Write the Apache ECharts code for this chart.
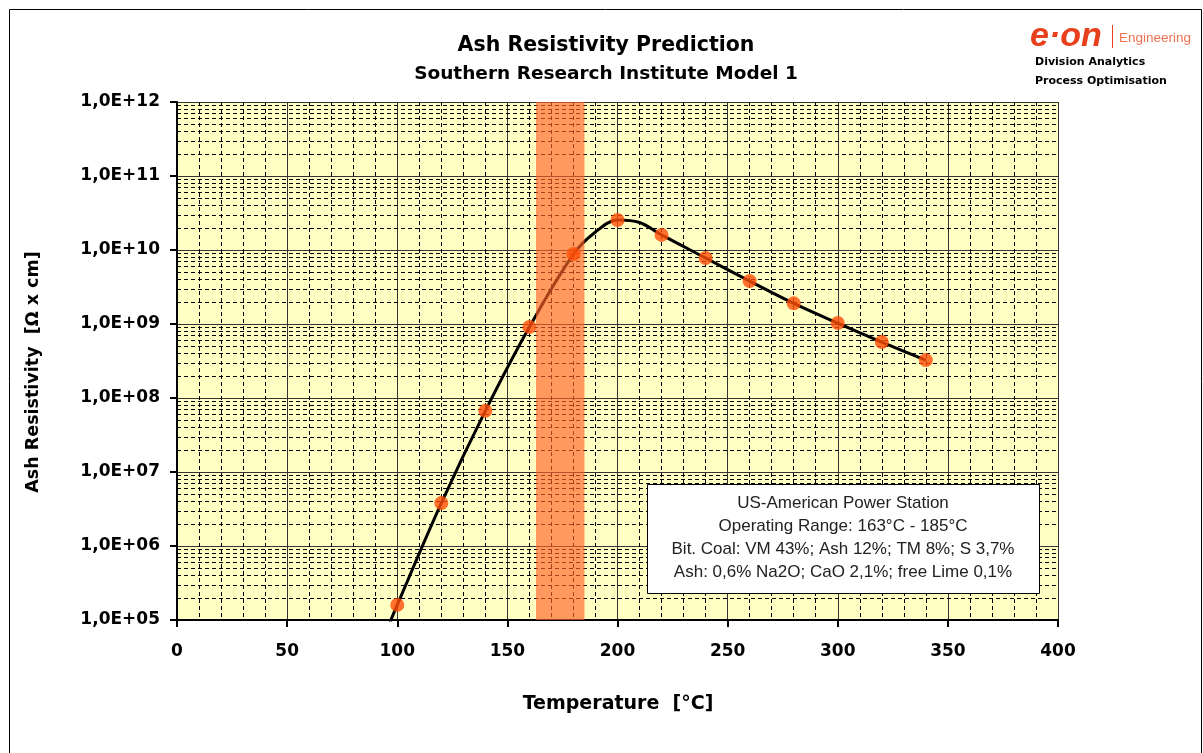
<!DOCTYPE html>
<html><head><meta charset="utf-8">
<script src="https://cdn.jsdelivr.net/npm/echarts@6/dist/echarts.min.js"></script>
<style>html,body{margin:0;padding:0;background:#fff;}#c{width:1203px;height:753px;}</style>
</head><body><div id="c"></div>
<script>
// Marker data (°C, Ω·cm)
const temps = [100, 120, 140, 160, 180, 200, 220, 240, 260, 280, 300, 320, 340];
const resistivity = [1.6e5, 3.8e6, 6.7e7, 9.1e8, 8.8e9, 2.54e10, 1.6e10, 7.8e9, 3.8e9, 1.9e9, 1.03e9, 5.7e8, 3.25e8];
// Model curve
const curveTemps = [95, 100, 120, 140, 160, 180, 190, 200, 210, 220, 240, 260, 280, 300, 320, 340];
const curveValues = [7e4, 1.6e5, 3.8e6, 6.7e7, 9.1e8, 8.8e9, 1.75e10, 2.54e10, 2.35e10, 1.6e10, 7.8e9, 3.8e9, 1.9e9, 1.03e9, 5.7e8, 3.25e8];
// Operating range
const operatingRange = [163, 185];
const xTicks = [0, 50, 100, 150, 200, 250, 300, 350, 400];
const yDecades = [5, 6, 7, 8, 9, 10, 11, 12];
const infoLines = [
  'US-American Power Station',
  'Operating Range: 163°C - 185°C',
  'Bit. Coal: VM 43%; Ash 12%; TM 8%; S 3,7%',
  'Ash: 0,6% Na2O; CaO 2,1%; free Lime 0,1%'
];

const FB = '"DejaVu Sans", Verdana, sans-serif';
const F = '"Liberation Sans", Arial, sans-serif';
const minorY = [];
for (let d = yDecades[0]; d < yDecades[yDecades.length - 1]; d++) {
  for (let m = 2; m <= 9; m++) minorY.push([0, m * Math.pow(10, d)]);
}

const chart = echarts.init(document.getElementById('c'));
chart.setOption({
  animation: false,
  grid: { left: 177, right: 145, top: 102, bottom: 133, show: true, backgroundColor: '#FFFFC4', borderWidth: 0 },
  xAxis: {
    type: 'value', min: xTicks[0], max: xTicks[xTicks.length - 1], interval: 50,
    axisLine: { show: true, onZero: false, lineStyle: { color: '#000', width: 2 } },
    axisTick: { show: true, length: 7, lineStyle: { color: '#000', width: 2 } },
    axisLabel: { margin: 23, fontFamily: FB, fontSize: 17, fontWeight: 'bold', color: '#000' },
    splitLine: { show: true, lineStyle: { color: '#333', width: 1 } },
    minorTick: { show: false, splitNumber: 5 },
    minorSplitLine: { show: true, lineStyle: { color: '#000', width: 1, type: [4, 3] } }
  },
  yAxis: {
    type: 'log', logBase: 10, min: 1e5, max: 1e12, splitNumber: 7,
    axisLine: { show: true, lineStyle: { color: '#000', width: 2 } },
    axisTick: { show: true, length: 7, lineStyle: { color: '#000', width: 2 } },
    axisLabel: {
      margin: 17, fontFamily: FB, fontSize: 17, fontWeight: 'bold', color: '#000', padding: [6, 0, 0, 0],
      formatter: v => { const e = Math.round(Math.log10(v)); return '1,0E+' + (e < 10 ? '0' + e : e); }
    },
    splitLine: { show: true, lineStyle: { color: '#333', width: 1 } }
  },
  series: [
    {
      type: 'custom', coordinateSystem: 'cartesian2d', data: minorY, z: 1, silent: true,
      renderItem: (params, api) => {
        const v = api.value(1);
        const a = api.coord([0, v]), b = api.coord([400, v]);
        const y = Math.round(a[1]) + 0.5;
        return { type: 'line', shape: { x1: a[0], y1: y, x2: b[0], y2: y },
          style: { stroke: '#000', lineWidth: 1, lineDash: [4, 3] } };
      }
    },
    {
      type: 'line', data: curveTemps.map((t, i) => [t, curveValues[i]]),
      smooth: 0.35, showSymbol: false, symbol: 'none', clip: true, z: 3,
      lineStyle: { color: '#000', width: 3 }
    },
    {
      type: 'custom', coordinateSystem: 'cartesian2d', data: [[operatingRange[0], operatingRange[1]]], z: 4, silent: true,
      renderItem: (params, api) => {
        const a = api.coord([api.value(0), 1e12]), b = api.coord([api.value(1), 1e5]);
        return { type: 'rect', shape: { x: a[0], y: a[1], width: b[0] - a[0], height: b[1] - a[1] },
          style: { fill: 'rgba(255,100,40,0.66)' } };
      }
    },
    {
      type: 'scatter', data: temps.map((t, i) => [t, resistivity[i]]), z: 5,
      symbol: 'circle', symbolSize: 14, itemStyle: { color: '#FF4D08' }
    }
  ],
  graphic: [
    { type: 'rect', shape: { x: 9.5, y: 9.5, width: 1192, height: 760 }, style: { fill: 'none', stroke: '#000', lineWidth: 1 }, z: 0 },
    { type: 'text', x: 606, y: 46, style: { text: 'Ash Resistivity Prediction', font: 'bold 20.5px ' + FB, fill: '#000', textAlign: 'center', textVerticalAlign: 'middle' } },
    { type: 'text', x: 606, y: 74, style: { text: 'Southern Research Institute Model 1', font: 'bold 18.5px ' + FB, fill: '#000', textAlign: 'center', textVerticalAlign: 'middle' } },
    { type: 'text', x: 618, y: 704, style: { text: 'Temperature  [°C]', font: 'bold 19px ' + FB, fill: '#000', textAlign: 'center', textVerticalAlign: 'middle' } },
    { type: 'text', x: 33, y: 372, rotation: Math.PI / 2, style: { text: 'Ash Resistivity  [Ω x cm]', font: 'bold 17.5px ' + FB, fill: '#000', textAlign: 'center', textVerticalAlign: 'middle' } },
    { type: 'rect', z: 10, shape: { x: 647.5, y: 484.5, width: 392, height: 109 }, style: { fill: '#fff', stroke: '#000', lineWidth: 1 } },
    { type: 'text', z: 11, x: 843, y: 503, style: { text: infoLines[0], font: '17px ' + F, fill: '#222', textAlign: 'center', textVerticalAlign: 'middle' } },
    { type: 'text', z: 11, x: 843, y: 526, style: { text: infoLines[1], font: '17px ' + F, fill: '#222', textAlign: 'center', textVerticalAlign: 'middle' } },
    { type: 'text', z: 11, x: 843, y: 549, style: { text: infoLines[2], font: '17px ' + F, fill: '#222', textAlign: 'center', textVerticalAlign: 'middle' } },
    { type: 'text', z: 11, x: 843, y: 572, style: { text: infoLines[3], font: '17px ' + F, fill: '#222', textAlign: 'center', textVerticalAlign: 'middle' } },
    { type: 'text', x: 1030, y: 37, style: { text: 'e·on', font: 'italic bold 34px ' + F, fill: '#E8401C', textAlign: 'left', textVerticalAlign: 'middle' } },
    { type: 'line', shape: { x1: 1112.5, y1: 25, x2: 1112.5, y2: 48 }, style: { stroke: '#E8401C', lineWidth: 1 } },
    { type: 'text', x: 1119, y: 38, style: { text: 'Engineering', font: '13.5px ' + F, fill: '#EE7050', textAlign: 'left', textVerticalAlign: 'middle' } },
    { type: 'text', x: 1035, y: 62, style: { text: 'Division Analytics', font: 'bold 11px ' + FB, fill: '#000', textAlign: 'left', textVerticalAlign: 'middle' } },
    { type: 'text', x: 1035, y: 81, style: { text: 'Process Optimisation', font: 'bold 11px ' + FB, fill: '#000', textAlign: 'left', textVerticalAlign: 'middle' } }
  ]
});
</script></body></html>
